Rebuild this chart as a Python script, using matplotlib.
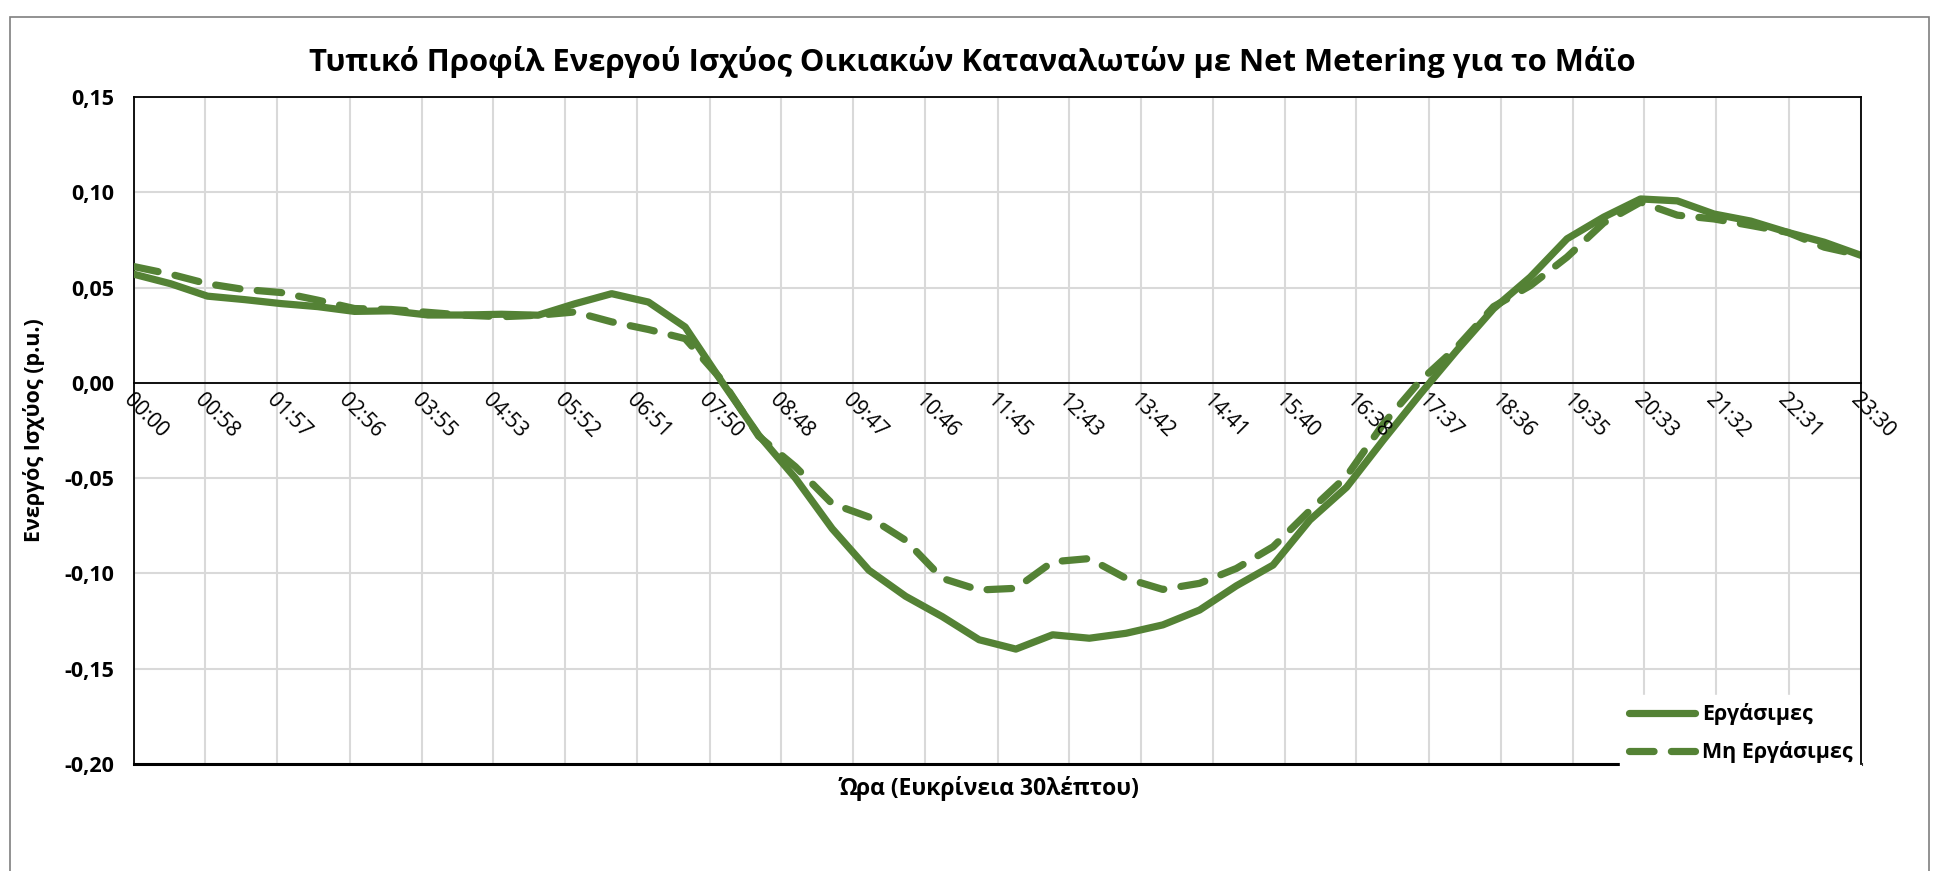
import numpy as np
import matplotlib
matplotlib.use("Agg")
import matplotlib.pyplot as plt
from matplotlib.patches import Rectangle

plt.rcParams['font.family'] = ['Open Sans', 'DejaVu Sans']

# time of day, every 30 minutes
times = ["00:00", "00:30", "01:00", "01:30", "02:00", "02:30", "03:00", "03:30",
         "04:00", "04:30", "05:00", "05:30", "06:00", "06:30", "07:00", "07:30",
         "08:00", "08:30", "09:00", "09:30", "10:00", "10:30", "11:00", "11:30",
         "12:00", "12:30", "13:00", "13:30", "14:00", "14:30", "15:00", "15:30",
         "16:00", "16:30", "17:00", "17:30", "18:00", "18:30", "19:00", "19:30",
         "20:00", "20:30", "21:00", "21:30", "22:00", "22:30", "23:00", "23:30"]

# working days (Εργάσιμες)
workdays = [0.057, 0.052, 0.0455, 0.0437, 0.0416, 0.040, 0.0375, 0.0378,
            0.0356, 0.0356, 0.036, 0.0355, 0.0415, 0.0468, 0.0424, 0.0293,
            0.0005, -0.0274, -0.050, -0.0765, -0.0983, -0.112, -0.1227, -0.1348,
            -0.1397, -0.1322, -0.134, -0.1314, -0.127, -0.1192, -0.1065, -0.0956,
            -0.072, -0.0548, -0.030, -0.006, 0.017, 0.0389, 0.0555, 0.0756,
            0.087, 0.0965, 0.0955, 0.0886, 0.0849, 0.079, 0.0738, 0.0669]

# non working days (Μη Εργάσιμες)
non_workdays = [0.061, 0.057, 0.052, 0.049, 0.0474, 0.0434, 0.039, 0.0385,
                0.037, 0.0355, 0.0347, 0.0355, 0.0372, 0.032, 0.028, 0.0232,
                0.0014, -0.028, -0.044, -0.0634, -0.0704, -0.0826, -0.1026, -0.1087,
                -0.1078, -0.0939, -0.0922, -0.1026, -0.1084, -0.1052, -0.0974, -0.086,
                -0.067, -0.049, -0.0215, 0.001, 0.0187, 0.040, 0.051, 0.066,
                0.084, 0.0948, 0.088, 0.086, 0.0826, 0.079, 0.0712, 0.0669]

tick_labels = ["00:00", "00:58", "01:57", "02:56", "03:55", "04:53", "05:52",
               "06:51", "07:50", "08:48", "09:47", "10:46", "11:45", "12:43",
               "13:42", "14:41", "15:40", "16:38", "17:37", "18:36", "19:35",
               "20:33", "21:32", "22:31", "23:30"]

y_ticks = [-0.20, -0.15, -0.10, -0.05, 0.0, 0.05, 0.10, 0.15]


def to_min(s):
    h, m = s.split(":")
    return int(h) * 60 + int(m)


x = np.array([to_min(t) for t in times])
xt = [to_min(t) for t in tick_labels]

green = "#548235"
grid_c = "#d9d9d9"

fig = plt.figure(figsize=(19.45, 8.71), dpi=100)
ax = fig.add_axes([134 / 1945, 1 - 764 / 871, (1861 - 134) / 1945, (764 - 97) / 871])

# horizontal axis crosses at zero (set first, it resets the tick labels)
ax.spines["bottom"].set_position(("data", 0))

ax.plot(x, workdays, color=green, lw=5.2, solid_capstyle="round",
        solid_joinstyle="round", label="Εργάσιμες", zorder=3)
ax.plot(x, non_workdays, color=green, lw=5.2, dashes=(3.4, 2.4),
        dash_capstyle="round", dash_joinstyle="round", label="Μη Εργάσιμες", zorder=3)

ax.set_xlim(x[0], x[-1])
ax.set_ylim(-0.20, 0.15)
ax.set_yticks(y_ticks)
ax.set_yticklabels([f"{v:.2f}".replace(".", ",") for v in y_ticks],
                   fontsize=15.5, fontweight="bold")
ax.set_xticks(xt)
ax.set_xticklabels(tick_labels, rotation=-45, ha="left", va="top",
                   rotation_mode="anchor", fontsize=15)
ax.tick_params(axis="both", length=0)
ax.tick_params(axis="x", pad=5)
ax.tick_params(axis="y", pad=14)

ax.spines["bottom"].set_linewidth(1.3)
for s in ["left", "top", "right"]:
    ax.spines[s].set_linewidth(1.3)
ax.spines["right"].set_zorder(6)
ax.axhline(-0.20, color="black", lw=2.2, zorder=2.5, clip_on=False)

# grid below the lines, time labels above them
ax.yaxis.grid(True, color=grid_c, lw=1.5)
ax.yaxis.set_zorder(0.5)
ax.vlines(xt, -0.20, 0.15, color=grid_c, lw=1.5, zorder=0.6)
ax.xaxis.set_zorder(4)

fig.text(0.5, 1 - 62 / 871,
         "Τυπικό Προφίλ Ενεργού Ισχύος Οικιακών Καταναλωτών με Net Metering για το Μάϊο",
         fontsize=22.3, fontweight="bold", ha="center", va="center")
ax.set_ylabel("Ενεργός Ισχύος (p.u.)", fontsize=15.5, fontweight="bold", labelpad=14)
ax.set_xlabel("Ώρα (Ευκρίνεια 30λέπτου)", fontsize=16.5, fontweight="bold")
ax.xaxis.set_label_coords(0.495, -0.018)
ax.xaxis.label.set_va("top")

leg = ax.legend(loc="lower right", bbox_to_anchor=(1.0, -0.012), borderaxespad=0,
                frameon=True, fancybox=False, edgecolor="white", facecolor="white",
                framealpha=1, handlelength=3.1, prop={"weight": "bold", "size": 15.5},
                labelspacing=0.75, handletextpad=0.3, borderpad=0.4)
leg.set_zorder(5)

fig.add_artist(Rectangle((10 / 1945, -0.1), 1919 / 1945, 1.1 - 17 / 871,
                         transform=fig.transFigure, fill=False,
                         edgecolor="#7f7f7f", lw=1.2))

fig.savefig("out.png", dpi=100)
